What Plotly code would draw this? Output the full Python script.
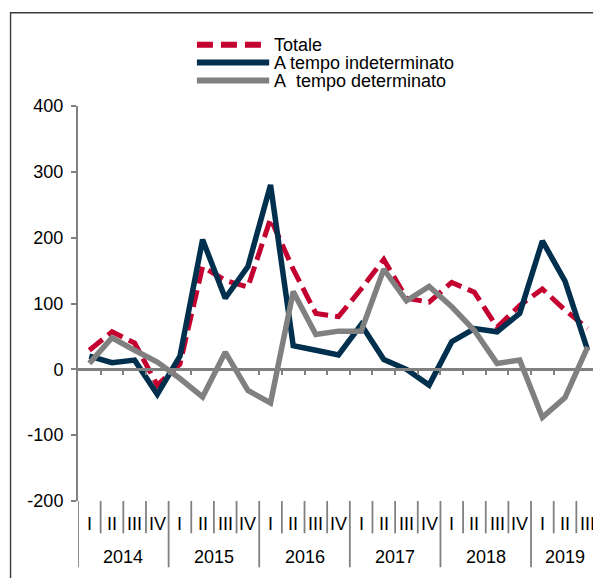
import plotly.graph_objects as go

# data (migliaia), quarterly 2014 I - 2019 III
years = ['2014', '2015', '2016', '2017', '2018', '2019']
quarters = ['I', 'II', 'III', 'IV'] * 5 + ['I', 'II', 'III']
totale = [29, 57, 40, -24, 8, 156, 135, 125, 229, 152, 85, 80,
          122, 167, 108, 102, 132, 117, 64, 97, 122, 90, 62]
indeterminato = [20, 10, 14, -38, 20, 197, 108, 156, 280, 36, 29, 22,
                 68, 15, 0, -24, 42, 62, 57, 85, 195, 134, 29]
determinato = [9, 48, 29, 11, -14, -42, 26, -32, -51, 118, 53, 58,
               58, 152, 104, 126, 95, 59, 9, 14, -73, -43, 34]
y_ticks = [-200, -100, 0, 100, 200, 300, 400]
y_ticktext = ['-200', '-100', '0', '100', '200', '300', '400']

RED = '#c3002f'
BLUE = '#00304e'
GREY = '#808080'
FONT = 'Arial, Liberation Sans, sans-serif'

# the page body has an 8px margin, so the figure starts at (8, 8)
OFF = 8
W, H = 601 - OFF, 578 - OFF
X0, X1 = 78, 599.3      # plot area left/right on the page
Y0, Y1 = 105.7, 500.7   # plot area top/bottom on the page
L, T = X0 - OFF, round(Y0 - OFF)
R = W - L - round(X1 - X0)
B = H - T - round(Y1 - Y0)


def px_x(p):
    return (p - X0) / (X1 - X0)


def px_y(p):
    return (Y1 - p) / (Y1 - Y0)


n = len(quarters)
x = list(range(n))

fig = go.Figure()
fig.add_trace(go.Scatter(x=x, y=totale, mode='lines', name='Totale',
                         line=dict(color=RED, width=5, dash='17px,7px')))
fig.add_trace(go.Scatter(x=x, y=indeterminato, mode='lines', name='A tempo indeterminato',
                         line=dict(color=BLUE, width=5.5)))
fig.add_trace(go.Scatter(x=x, y=determinato, mode='lines', name='A  tempo determinato',
                         line=dict(color=GREY, width=5.5)))

shapes = []
annotations = []

# category table under the chart
for k in range(n + 1):
    is_year = k % 4 == 0 or k == n
    shapes.append(dict(type='line', xref='x', yref='paper', x0=k - 0.5, x1=k - 0.5,
                       y0=0, y1=px_y(567 if is_year else 533),
                       line=dict(color=GREY, width=1.8)))
for i, q in enumerate(quarters):
    annotations.append(dict(x=i, y=px_y(523.5), xref='x', yref='paper', text=q,
                            showarrow=False, xanchor='center', yanchor='middle',
                            font=dict(size=18, color='black', family=FONT)))
for j, yr in enumerate(years):
    last = min(4 * j + 3, n - 1)
    annotations.append(dict(x=(4 * j + last) / 2, y=px_y(557), xref='x', yref='paper', text=yr,
                            showarrow=False, xanchor='center', yanchor='middle',
                            font=dict(size=18, color='black', family=FONT)))

# legend drawn by hand
legend_rows = [('Totale', RED, '16px,8px', 44.5, 262),
               ('A tempo indeterminato', BLUE, 'solid', 62.3, 269.3),
               ('A\u00a0 tempo determinato', GREY, 'solid', 80.3, 269.3)]
for label, color, dash, py, xend in legend_rows:
    shapes.append(dict(type='line', xref='paper', yref='paper',
                       x0=px_x(197), x1=px_x(xend), y0=px_y(py), y1=px_y(py),
                       line=dict(color=color, width=6, dash=dash)))
    annotations.append(dict(x=px_x(272.5), y=px_y(py), xref='paper', yref='paper', text=label,
                            showarrow=False, xanchor='left', yanchor='middle',
                            font=dict(size=18, color='black', family=FONT)))

# outer frame
shapes.append(dict(type='rect', xref='paper', yref='paper',
                   x0=px_x(10.5), x1=px_x(640), y0=px_y(640), y1=px_y(12.5),
                   line=dict(color='#3c3c3c', width=1.4), fillcolor='rgba(0,0,0,0)'))

fig.update_layout(
    width=W, height=H,
    margin=dict(l=L, r=R, t=T, b=B),
    paper_bgcolor='white', plot_bgcolor='white',
    showlegend=False,
    font=dict(family=FONT, size=18, color='black'),
    shapes=shapes,
    annotations=annotations,
    xaxis=dict(range=[-0.5, n - 0.5], anchor='free', position=1 / 3,
               showline=True, linecolor=GREY, linewidth=2.5,
               ticks='outside', ticklen=4, tickwidth=1.5, tickcolor=GREY,
               tickvals=[k + 0.5 for k in range(n - 1)],
               showticklabels=False, showgrid=False, zeroline=False),
    yaxis=dict(range=[-200, 400], tickvals=y_ticks, ticktext=y_ticktext,
               showline=True, linecolor=GREY, linewidth=2,
               ticks='outside', ticklen=5, tickwidth=1.5, tickcolor=GREY,
               ticklabelstandoff=4,
               tickfont=dict(size=18, color='black', family=FONT),
               showgrid=False, zeroline=False),
)

fig.write_html("out.html")
